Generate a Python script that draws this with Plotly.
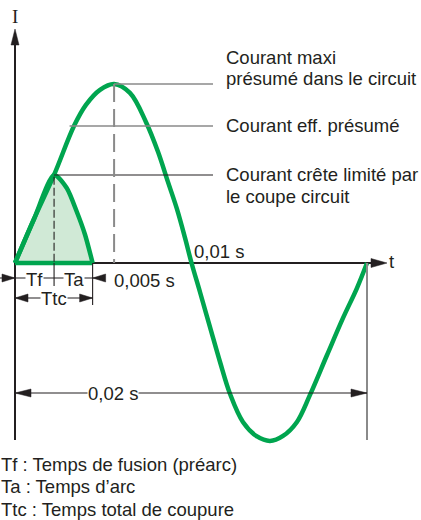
import plotly.graph_objects as go

# ---------------- data ----------------
# prospective current wave: time in ms, current relative to the prospective peak
t_ms = [0, 1.08, 2.22, 3.35, 4.03, 4.83, 5.63, 6.53, 7.44, 8.13, 8.69, 9.2, 9.66,
        10.03, 10.51, 11.08, 11.65, 12.22, 12.95, 13.75, 14.49, 15.23, 16.02, 16.76,
        17.73, 18.64, 19.43, 20.0]
current = [0, 0.246, 0.492, 0.765, 0.883, 0.967, 1.0, 0.95, 0.788, 0.62, 0.453, 0.302, 0.14,
           0.0, -0.162, -0.358, -0.553, -0.732, -0.888, -0.969, -0.994, -0.966, -0.888, -0.737,
           -0.514, -0.307, -0.14, 0]

# limited current (fuse cuts the wave)
t_lim = [0, 1.08, 2.22, 2.94, 3.5, 3.98, 4.41]
i_lim = [0, 0.246, 0.492, 0.419, 0.289, 0.158, 0]

I_MAX = max(current)
T_PEAK = t_ms[current.index(I_MAX)]
I_EFF = 0.765            # drawn level of the r.m.s. line
T_EFF = 3.1              # left end of that line
I_CUT = max(i_lim)
T_CUT = t_lim[i_lim.index(I_CUT)]   # end of Tf
T_END = t_lim[-1]                    # end of Ta (total breaking time)
T_PERIOD = 20.0

axis_labels = ["I", "t"]
time_labels = ["0,01 s", "0,005 s", "0,02 s"]
bracket_labels = ["Tf", "Ta", "Ttc"]
callouts = ["Courant maxi", "présumé dans le circuit", "Courant eff. présumé",
            "Courant crête limité par", "le coupe circuit"]
legend_lines = ["Tf : Temps de fusion (préarc)", "Ta : Temps d\u2019arc",
                "Ttc : Temps total de coupure"]

# ---------------- layout helpers (pixel -> data) ----------------
W, H = 421, 520
X0, SX = 15.0, 17.6     # px of t=0, px per ms
Y0, SY = 263.0, 179.0   # px of I=0, px per unit current


def dx(p):
    return (p - X0) / SX


def dy(p):
    return (Y0 - p) / SY


def px(t):
    return X0 + t * SX


GREEN = "#00a54f"
FILL = "#d0e9d6"
DARK = "#231f20"
GRAY = "#8a8a8a"
FONT = "Liberation Sans"
FS = 18.5

fig = go.Figure()
fig.add_trace(go.Scatter(x=t_lim, y=i_lim, mode="lines",
                         line=dict(color=GREEN, width=4.5, shape="spline", smoothing=0.7),
                         fill="tozeroy", fillcolor=FILL, hoverinfo="skip"))
fig.add_trace(go.Scatter(x=t_ms, y=current, mode="lines",
                         line=dict(color=GREEN, width=4.5, shape="spline", smoothing=1.0), hoverinfo="skip"))
fig.add_trace(go.Scatter(x=[t_lim[0], T_END], y=[0, 0], mode="lines",
                         line=dict(color=GREEN, width=4.5), hoverinfo="skip"))

shapes = []


def line(x0, y0, x1, y1, color=DARK, width=1.2, dash="solid", layer="above"):
    shapes.append(dict(type="line", xref="x", yref="y", x0=x0, y0=y0, x1=x1, y1=y1,
                       line=dict(color=color, width=width, dash=dash), layer=layer))


def tri(tx, ty, direction, length=14, half=4.2, color=DARK):
    if direction == "right":
        pts = [(tx, ty), (tx - length, ty - half), (tx - length, ty + half)]
    elif direction == "left":
        pts = [(tx, ty), (tx + length, ty - half), (tx + length, ty + half)]
    else:  # up
        pts = [(tx, ty), (tx - half, ty + length), (tx + half, ty + length)]
    path = "M " + " L ".join(f"{dx(a):.5f},{dy(b):.5f}" for a, b in pts) + " Z"
    shapes.append(dict(type="path", xref="x", yref="y", path=path,
                       fillcolor=color, line=dict(color=color, width=0.5), layer="above"))


# axes
line(0, dy(440), 0, dy(40), width=2, layer="below")
tri(X0, 29, "up", length=16, half=4)
line(0, 0, dx(374), 0, width=2, layer="below")
tri(387, Y0, "right", length=16, half=4.5)

# reference levels
line(T_PEAK, I_MAX, dx(213), I_MAX, color=GRAY, width=1.5)
line(T_EFF, I_EFF, dx(213), I_EFF, color=GRAY, width=1.5)
line(T_CUT, I_CUT, dx(213), I_CUT, color=DARK, width=1.1)
line(T_PEAK, I_MAX, T_PEAK, 0, color=GRAY, width=2, dash="18px,7px")
line(T_CUT, I_CUT - 0.01, T_CUT, 0, color=DARK, width=1.1, dash="8px,3px")
line(T_CUT, 0, T_CUT, dy(286), color=DARK, width=1.1)
line(T_END, 0, T_END, dy(305), color=DARK, width=1.1)
line(T_PERIOD, 0, T_PERIOD, dy(440), color=GRAY, width=2)

# Tf / Ta bracket
yb = 278
line(dx(0), dy(yb), dx(104), dy(yb), width=1.1)
tri(px(0), yb, "right", length=13, half=4)
tri(px(T_END), yb, "left", length=13, half=4)
# Ttc
yt = 298
line(0, dy(yt), T_END, dy(yt), width=1.1)
tri(px(0), yt, "left", length=13, half=4)
tri(px(T_END), yt, "right", length=13, half=4)
# period
yp = 393
line(0, dy(yp), T_PERIOD, dy(yp), width=1.1)
tri(px(0), yp, "left", length=16, half=4)
tri(px(T_PERIOD), yp, "right", length=16, half=4)

ann = []


def text(s, x, y, xanchor="left", size=FS, family=FONT, bg=None, xshift=0):
    a = dict(text=s, x=dx(x), y=dy(y), xref="x", yref="y", showarrow=False,
             xanchor=xanchor, yanchor="middle", font=dict(family=family, size=size, color=DARK),
             borderpad=0, xshift=xshift)
    if bg:
        a["bgcolor"] = bg
    ann.append(a)


text(axis_labels[0], 15, 16, xanchor="center", size=19, family="Liberation Serif")
text(axis_labels[1], 388, 261)
text(time_labels[0], 193, 251)
text(time_labels[1], 113, 280)
text(time_labels[2], 113, 393, xanchor="center", bg="white")
text(bracket_labels[0], 34, 279, xanchor="center", bg="white")
text(bracket_labels[1], 74, 279, xanchor="center", bg="white")
text(bracket_labels[2], 54, 298, xanchor="center", bg="white")
for s, y in zip(callouts, [57, 78, 125, 174, 196]):
    text(s, 225, y)
for s, y in zip(legend_lines, [464, 486, 509]):
    text(s, 1, y, xshift=-1)

fig.update_layout(
    width=W, height=H, autosize=False,
    margin=dict(l=0, r=0, t=0, b=0),
    paper_bgcolor="white", plot_bgcolor="white",
    showlegend=False,
    xaxis=dict(visible=False, range=[dx(0), dx(W)], fixedrange=True),
    yaxis=dict(visible=False, range=[dy(H), dy(0)], fixedrange=True),
    shapes=shapes, annotations=ann,
)
fig.write_html("out.html", config={"displayModeBar": False},
               post_script="document.body.style.margin='0px';document.body.style.overflow='hidden';")
